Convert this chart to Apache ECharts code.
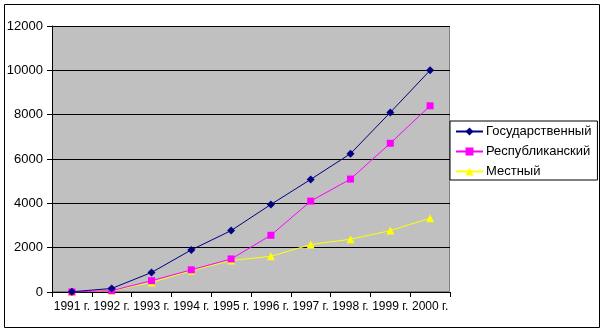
<!DOCTYPE html>
<html><head><meta charset="utf-8">
<script src="https://cdn.jsdelivr.net/npm/echarts@6/dist/echarts.min.js"></script>
<style>html,body{margin:0;padding:0;background:#fff}#c{width:604px;height:333px}</style>
</head><body><div id="c"></div>
<script>
const categories = ['1991 г.','1992 г.','1993 г.','1994 г.','1995 г.','1996 г.','1997 г.','1998 г.','1999 г.','2000 г.'];
const gosudarstvenny = [10, 160, 880, 1900, 2770, 3950, 5080, 6240, 8100, 10000];
const respublikansky = [5, 60, 510, 1000, 1490, 2560, 4100, 5095, 6710, 8400];
const mestny = [5, 60, 430, 960, 1420, 1610, 2140, 2380, 2770, 3330];
const seriesNames = ['Государственный','Республиканский','Местный'];
const yTicks = {min: 0, max: 12000, interval: 2000};

const chart = echarts.init(document.getElementById('c'), null, {renderer:'canvas'});
const font = 'Arial, "Liberation Sans", sans-serif';
chart.setOption({
  animation: false,
  backgroundColor: '#fff',
  graphic: [
    {type:'rect', shape:{x:4.5,y:4.5,width:595,height:323}, style:{fill:'none', stroke:'#000', lineWidth:1}, z:-10},
    {type:'rect', shape:{x:52.5,y:26.5,width:397,height:265}, style:{fill:'#C0C0C0', stroke:'#808080', lineWidth:1}, z:-5}
  ],
  grid: {left:52, top:26, width:398, height:266, containLabel:false},
  legend: {
    orient:'vertical', left:450, top:121, width:144,
    padding:[4,6,2,5], itemGap:7, itemWidth:27, itemHeight:10,
    backgroundColor:'#fff', borderColor:'#000', borderWidth:1, borderRadius:0,
    textStyle:{fontFamily:font, fontSize:13, color:'#000', padding:[0,0,0,-2]},
    data: seriesNames
  },
  xAxis: {
    type:'category', data: categories, boundaryGap:true,
    axisLine:{lineStyle:{color:'#000', width:1}},
    axisTick:{show:true, length:5, inside:false, lineStyle:{color:'#000'}},
    axisLabel:{fontFamily:font, fontSize:12, color:'#000', margin:9, interval:0}
  },
  yAxis: {
    type:'value', min:yTicks.min, max:yTicks.max, interval:yTicks.interval,
    axisLine:{show:true, lineStyle:{color:'#000', width:1}},
    axisTick:{show:true, length:5, lineStyle:{color:'#000'}},
    axisLabel:{fontFamily:font, fontSize:13, color:'#000', margin:9, formatter: v => String(v)},
    splitLine:{show:true, lineStyle:{color:'#000', width:1}}
  },
  series: [
    {name:seriesNames[0], type:'line', data:gosudarstvenny, symbol:'diamond', symbolSize:8,
     itemStyle:{color:'#000080'}, lineStyle:{color:'#000080', width:1}, z:4},
    {name:seriesNames[1], type:'line', data:respublikansky, symbol:'rect', symbolSize:7,
     itemStyle:{color:'#FF00FF'}, lineStyle:{color:'#FF00FF', width:1}, z:3},
    {name:seriesNames[2], type:'line', data:mestny, symbol:'triangle', symbolSize:8,
     itemStyle:{color:'#FFFF00'}, lineStyle:{color:'#FFFF00', width:1}, z:2}
  ]
});
</script></body></html>
